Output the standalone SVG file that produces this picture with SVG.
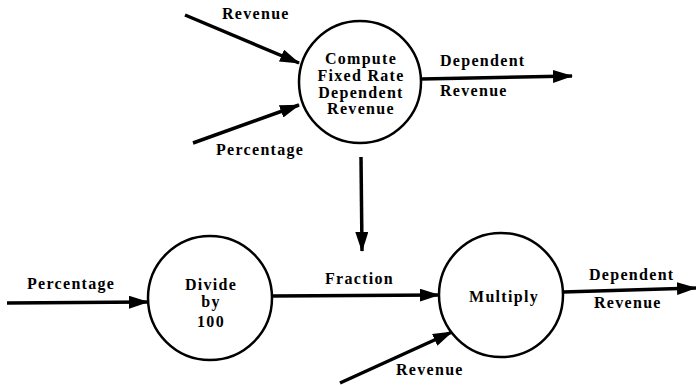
<svg xmlns="http://www.w3.org/2000/svg" width="696" height="385" viewBox="0 0 696 385">
  <style>
    .proc { fill: #fff; stroke: #000; stroke-width: 2.5; }
    .flow { fill: none; stroke: #000; stroke-width: 3.5; marker-end: url(#head); }
    text { font-family: "Liberation Serif", "Times New Roman", serif; font-weight: bold; font-size: 16px; letter-spacing: 1.3px; fill: #000; }
    .c { text-anchor: middle; }
  </style>
  <defs>
    <marker id="head" markerUnits="userSpaceOnUse" markerWidth="20" markerHeight="13" viewBox="0 0 20 13" refX="19" refY="6.5" orient="auto">
      <path d="M0,0 L20,6.5 L0,13 Z" fill="#000"/>
    </marker>
  </defs>

  <g id="connectors">
    <line class="flow" x1="185" y1="15" x2="299" y2="63"/>
    <line class="flow" x1="193" y1="143" x2="299" y2="105"/>
    <line class="flow" x1="421" y1="79" x2="572" y2="76"/>
    <line class="flow" x1="361" y1="157" x2="362" y2="251"/>
    <line class="flow" x1="7" y1="303" x2="148" y2="302"/>
    <line class="flow" x1="272" y1="296" x2="439" y2="295"/>
    <line class="flow" x1="563" y1="292" x2="696" y2="288"/>
    <line class="flow" x1="340" y1="383" x2="452" y2="332"/>
  </g>

  <g id="flow-labels">
    <text x="222" y="19">Revenue</text>
    <text x="216" y="155">Percentage</text>
    <text x="440" y="66">Dependent</text>
    <text x="440" y="96">Revenue</text>
    <text x="27" y="289">Percentage</text>
    <text x="325" y="284">Fraction</text>
    <text x="589" y="280">Dependent</text>
    <text x="594" y="308">Revenue</text>
    <text x="396" y="375">Revenue</text>
  </g>

  <g id="compute-fixed-rate">
    <circle class="proc" cx="360" cy="82" r="61"/>
    <text class="c" x="361" y="64">Compute</text>
    <text class="c" x="361" y="81">Fixed Rate</text>
    <text class="c" x="361" y="98">Dependent</text>
    <text class="c" x="361" y="114">Revenue</text>
  </g>

  <g id="divide-by-100">
    <circle class="proc" cx="210" cy="298" r="62"/>
    <text class="c" x="211" y="290">Divide</text>
    <text class="c" x="211" y="307">by</text>
    <text class="c" x="211" y="327">100</text>
  </g>

  <g id="multiply">
    <circle class="proc" cx="501" cy="295" r="62"/>
    <text class="c" x="504" y="302">Multiply</text>
  </g>
</svg>
